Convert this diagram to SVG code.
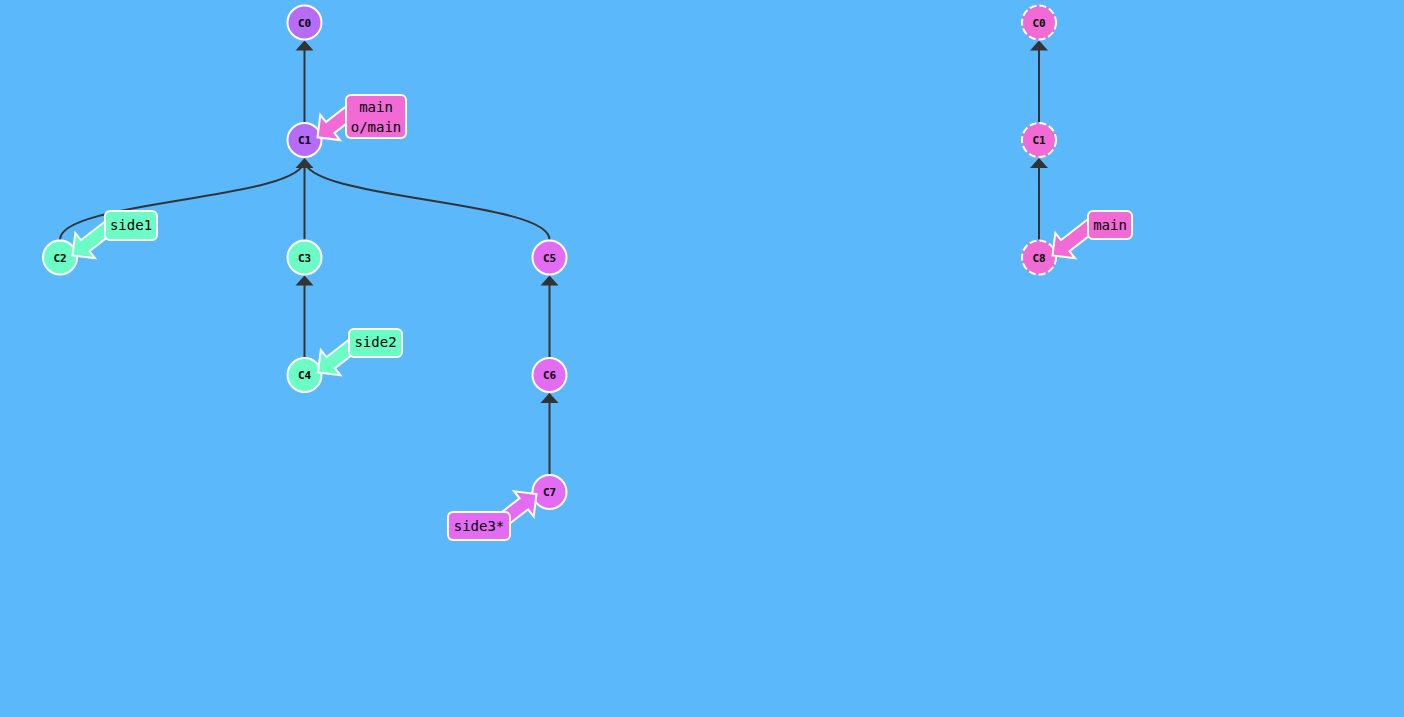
<svg xmlns="http://www.w3.org/2000/svg" xmlns:xlink="http://www.w3.org/1999/xlink" width="1404" height="717" viewBox="0 0 1404 717">
<style>
.edge{fill:none;stroke:#333;stroke-width:2}
.head{fill:#333}
.node{stroke:#fff;stroke-width:2}
.dash{stroke-dasharray:7 3}
.cid{font-family:"DejaVu Sans Mono","Liberation Mono",monospace;font-size:11px;font-weight:bold;text-anchor:middle;fill:#000}
.blab{font-family:"DejaVu Sans Mono","Liberation Mono",monospace;font-size:14px;text-anchor:middle;fill:#000}
.box{stroke:#fff;stroke-width:2}
.purple{fill:#b66cf6}
.teal{fill:#6cfcc6}
.mag{fill:#e46cf4}
.pink{fill:#f26ad6}
</style>
<defs>
<polygon id="barrow" points="39.2,-39.2 8.4,-15.3 2.8,-22.5 0,0 22.5,2.8 16.9,-4.3 47.7,-28.2" stroke="#fff" stroke-width="2" stroke-linejoin="miter"/>
<polygon id="ahead" points="0,0 -9,10 9,10"/>
</defs>
<rect width="1404" height="717" fill="#5bb8fa"/>

<g id="connectors">
<path class="edge" d="M304.5,122 L304.5,42"/>
<path class="edge" d="M60,239.5 C60,200 304.5,200 304.5,160"/>
<path class="edge" d="M304.5,239.5 L304.5,160"/>
<path class="edge" d="M549.5,239.5 C549.5,200 304.5,200 304.5,160"/>
<path class="edge" d="M304.5,357 L304.5,277"/>
<path class="edge" d="M549.5,357 L549.5,277"/>
<path class="edge" d="M549.5,474 L549.5,394"/>
<path class="edge" d="M1039,122 L1039,42"/>
<path class="edge" d="M1039,239.5 L1039,160"/>
<use href="#ahead" class="head" x="304.5" y="40.5"/>
<use href="#ahead" class="head" x="304.5" y="158"/>
<use href="#ahead" class="head" x="304.5" y="275.5"/>
<use href="#ahead" class="head" x="549.5" y="275.5"/>
<use href="#ahead" class="head" x="549.5" y="393"/>
<use href="#ahead" class="head" x="1039" y="40.5"/>
<use href="#ahead" class="head" x="1039" y="158"/>
</g>

<g id="C0"><circle class="node purple" cx="304.5" cy="22.5" r="17"/><text class="cid" x="304.5" y="26.5">C0</text></g>
<g id="C1"><circle class="node purple" cx="304.5" cy="140" r="17"/><text class="cid" x="304.5" y="144">C1</text></g>
<g id="C2"><circle class="node teal" cx="60" cy="257.5" r="17"/><text class="cid" x="60" y="261.5">C2</text></g>
<g id="C3"><circle class="node teal" cx="304.5" cy="257.5" r="17"/><text class="cid" x="304.5" y="261.5">C3</text></g>
<g id="C4"><circle class="node teal" cx="304.5" cy="375" r="17"/><text class="cid" x="304.5" y="379">C4</text></g>
<g id="C5"><circle class="node mag" cx="549.5" cy="257.5" r="17"/><text class="cid" x="549.5" y="261.5">C5</text></g>
<g id="C6"><circle class="node mag" cx="549.5" cy="375" r="17"/><text class="cid" x="549.5" y="379">C6</text></g>
<g id="C7"><circle class="node mag" cx="549.5" cy="492" r="17"/><text class="cid" x="549.5" y="496">C7</text></g>
<g id="R-C0"><circle class="node dash pink" cx="1039" cy="22.5" r="17"/><text class="cid" x="1039" y="26.5">C0</text></g>
<g id="R-C1"><circle class="node dash pink" cx="1039" cy="140" r="17"/><text class="cid" x="1039" y="144">C1</text></g>
<g id="R-C8"><circle class="node dash pink" cx="1039" cy="257.5" r="17"/><text class="cid" x="1039" y="261.5">C8</text></g>

<g id="label-main-left">
<use href="#barrow" class="pink" transform="translate(317.5,137.3)"/>
<rect class="box pink" x="346" y="95" width="60" height="43" rx="5"/>
<text class="blab" x="376" y="111.5">main</text>
<text class="blab" x="376" y="132">o/main</text>
</g>
<g id="label-side1">
<use href="#barrow" class="teal" transform="translate(72.5,255.5)"/>
<rect class="box teal" x="105" y="211" width="52" height="29" rx="5"/>
<text class="blab" x="131" y="230">side1</text>
</g>
<g id="label-side2">
<use href="#barrow" class="teal" transform="translate(318,372.5)"/>
<rect class="box teal" x="349" y="329" width="53" height="28" rx="5"/>
<text class="blab" x="375.5" y="346.5">side2</text>
</g>
<g id="label-side3">
<use href="#barrow" class="mag" transform="translate(536.5,494) rotate(180)"/>
<rect class="box mag" x="448" y="512" width="62" height="28" rx="5"/>
<text class="blab" x="479" y="530.5">side3*</text>
</g>
<g id="label-main-right">
<use href="#barrow" class="pink" transform="translate(1052.5,255.5)"/>
<rect class="box pink" x="1088" y="211" width="44" height="28" rx="5"/>
<text class="blab" x="1110" y="229.5">main</text>
</g>
</svg>
